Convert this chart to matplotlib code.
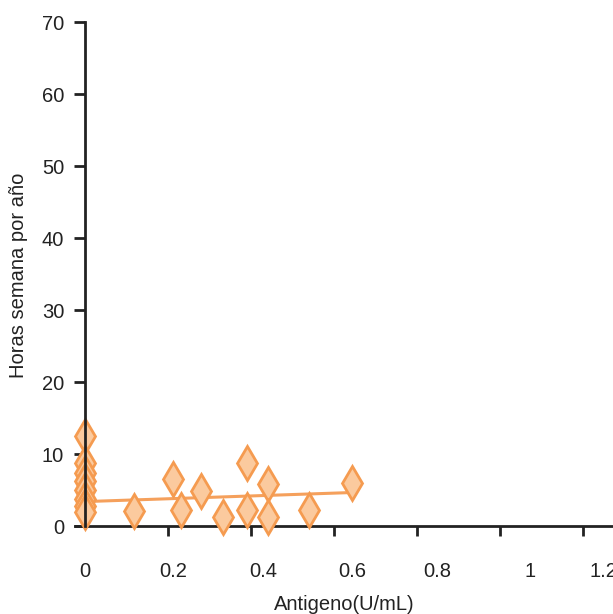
import matplotlib
matplotlib.use("Agg")
import matplotlib.pyplot as plt
import numpy as np

# datos
antigeno = [0, 0, 0, 0, 0, 0, 0, 0,
            0.109, 0.197, 0.216, 0.26, 0.311, 0.365, 0.365, 0.412, 0.412, 0.504, 0.599]
horas = [12.5, 8.7, 7.4, 6.2, 5.0, 3.8, 2.8, 1.9,
         2.1, 6.5, 2.2, 4.8, 1.3, 8.8, 2.2, 5.9, 1.3, 2.2, 6.0]
# recta de regresion
fit_x = [0.005, 0.6]
fit_y = [3.4, 4.65]

xticklabels = ['0', '0.2', '0.4', '0.6', '0.8', '1', '1.2']
yticks = [0, 10, 20, 30, 40, 50, 60, 70]

plt.rcParams['font.family'] = ['Liberation Sans', 'DejaVu Sans']
fs = 14.5

W, H = 613, 614
fig = plt.figure(figsize=(W / 100, H / 100), dpi=100)
ax = fig.add_axes([75 / W, 1 - 526 / H, (W - 75) / W, (526 - 22) / H])

orange_edge = '#F59B50'
orange_fill = '#FBCA9E'

ax.plot(fit_x, fit_y, color='#F5A05C', lw=2.2, zorder=2)
ax.plot(antigeno, horas, linestyle='none', marker='d', markersize=17.5,
        markerfacecolor=orange_fill, markeredgecolor=orange_edge,
        markeredgewidth=2, zorder=3, clip_on=False)

ax.set_xlim(-10 / 445, (W - 85) / 445)
ax.set_ylim(0, 70)

for s in ['top', 'right']:
    ax.spines[s].set_visible(False)
ax.spines['left'].set_position(('data', 0))
for s in ['left', 'bottom']:
    ax.spines[s].set_linewidth(2)
    ax.spines[s].set_color('#222222')
ax.spines['left'].set_zorder(4)

ax.set_yticks(yticks)
ax.tick_params(axis='y', length=8, width=2, color='#222222', labelsize=fs, pad=7,
               labelcolor='#222222')

# etiquetas sin marca, y marcas de tick con otro espaciado (como en el original)
ax.set_xticks([0, 0.198, 0.4, 0.6, 0.791, 1.0, 1.164])
ax.set_xticklabels(xticklabels)
ax.tick_params(axis='x', which='major', length=0, labelsize=fs, pad=26,
               labelcolor='#222222')
ax.set_xticks([0, 0.1865, 0.373, 0.5595, 0.746, 0.9325, 1.119], minor=True)
ax.tick_params(axis='x', which='minor', length=7, width=2, color='#222222')

ax.set_xlabel('Antigeno(U/mL)', fontsize=fs, color='#222222')
ax.xaxis.set_label_coords(344 / W, 1 - 595 / H, transform=fig.transFigure)
ax.set_ylabel('Horas semana por año', fontsize=fs, color='#222222', va='center')
ax.yaxis.set_label_coords(19 / W, 1 - 275 / H, transform=fig.transFigure)

fig.savefig('out.png', dpi=100)
